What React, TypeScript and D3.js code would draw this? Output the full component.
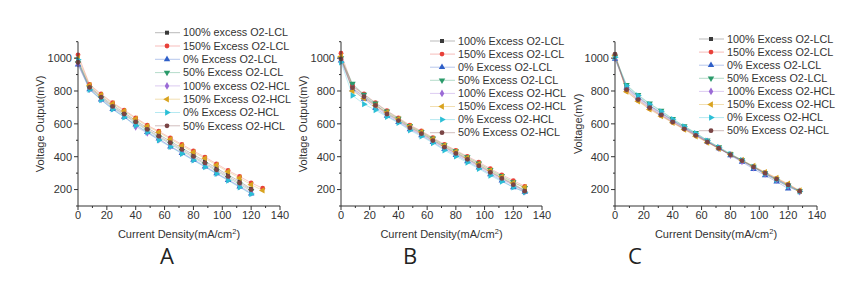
import React from 'react';
import * as d3 from 'd3';

// current density (mA/cm2)
const densities = [0, 8, 16, 24, 32, 40, 48, 56, 64, 72, 80, 88, 96, 104, 112, 120, 128];

const labelsA = [
  '100% excess O2-LCL', '150% Excess O2-LCL', '0% Excess O2-LCL', '50% Excess O2-LCL',
  '100% excess O2-HCL', '150% Excess O2-HCL', '0% Excess O2-HCL', '50% Excess O2-HCL',
];
const labelsBC = [
  '100% Excess O2-LCL', '150% Excess O2-LCL', '0% Excess O2-LCL', '50% Excess O2-LCL',
  '100% Excess O2-HCL', '150% Excess O2-HCL', '0% Excess O2-HCL', '50% Excess O2-HCL',
];

// panel A (mV), legend order
const a100L = [985, 828, 768, 714, 668, 620, 575, 535, 494, 453, 412, 372, 330, 289, 250, 205];
const a150L = [1020, 840, 782, 729, 684, 637, 592, 555, 514, 475, 435, 398, 357, 316, 280, 241, 208];
const a0L = [960, 810, 748, 690, 642, 595, 550, 510, 462, 422, 380, 340, 298, 258, 218, 175];
const a50L = [970, 818, 757, 700, 655, 605, 560, 518, 478, 436, 395, 355, 313, 272, 232, 192];
const a100H = [965, 812, 750, 695, 648, 582, 545, 505, 465, 425, 385, 345, 302, 262, 222, 182];
const a150H = [1000, 835, 776, 723, 678, 631, 586, 549, 507, 467, 427, 390, 349, 308, 270, 230, 195];
const a0H = [990, 808, 745, 688, 640, 590, 548, 500, 460, 418, 378, 337, 296, 255, 214, 173];
const a50H = [975, 822, 762, 706, 660, 612, 566, 525, 485, 444, 402, 362, 320, 280, 240, 200];

// panel B
const b100L = [1000, 835, 770, 718, 665, 625, 580, 545, 503, 462, 425, 388, 350, 310, 272, 234, 195];
const b150L = [1030, 830, 782, 729, 680, 637, 592, 557, 516, 475, 439, 402, 367, 327, 290, 255, 220];
const b0L = [985, 810, 752, 695, 648, 610, 567, 530, 488, 446, 410, 372, 333, 293, 255, 214, 186];
const b50L = [1000, 845, 778, 725, 676, 632, 587, 552, 511, 470, 434, 397, 360, 320, 283, 246, 210];
const b100H = [990, 815, 760, 705, 655, 615, 572, 535, 494, 454, 415, 380, 340, 300, 262, 225, 188];
const b150H = [1010, 800, 755, 712, 670, 630, 585, 550, 508, 468, 430, 393, 355, 316, 278, 240, 215];
const b0H = [975, 773, 720, 684, 643, 606, 561, 524, 484, 439, 402, 365, 327, 286, 249, 214, 184];
const b50H = [995, 820, 765, 712, 660, 620, 576, 540, 498, 458, 420, 384, 345, 305, 268, 230, 190];

// panel C
const c100L = [1000, 825, 765, 712, 668, 622, 580, 538, 495, 454, 412, 374, 335, 294, 256, 218, 186];
const c150L = [1020, 800, 742, 692, 650, 608, 568, 528, 488, 450, 412, 378, 340, 304, 268, 232, 192];
const c0L = [995, 820, 760, 708, 664, 620, 576, 535, 492, 450, 408, 368, 325, 286, 248, 206];
const c50L = [1010, 837, 776, 724, 680, 631, 586, 545, 500, 459, 418, 380, 340, 300, 262, 225, 190];
const c100H = [1000, 815, 755, 704, 660, 616, 574, 533, 492, 452, 410, 372, 334, 296, 260, 222, 188];
const c150H = [1015, 796, 738, 688, 647, 606, 565, 524, 486, 449, 414, 380, 343, 306, 271, 235, 194];
const c0H = [1005, 832, 772, 720, 676, 628, 584, 543, 498, 457, 416, 378, 338, 298, 260, 222, 188];
const c50H = [1025, 808, 748, 698, 654, 612, 570, 530, 490, 452, 412, 376, 338, 300, 264, 228, 190];

const colors = ['#3a3a3a', '#e8413a', '#2f5fc8', '#2a9a6a', '#9b6bd6', '#d9a31f', '#2bbfd6', '#7a4545'];
const shapes = [
  { t: d3.symbolSquare, r: 0 },
  { t: d3.symbolCircle, r: 0 },
  { t: d3.symbolTriangle, r: 0 },
  { t: d3.symbolTriangle, r: 180 },
  { t: d3.symbolDiamond, r: 0 },
  { t: d3.symbolTriangle, r: -90 },
  { t: d3.symbolTriangle, r: 90 },
  { t: d3.symbolCircle, r: 0 },
];

const font = '"Liberation Sans", Arial, sans-serif';

type PanelProps = {
  x0: number; x1: number;
  series: number[][]; labels: string[];
  yTitle: string; yTitleX: number;
  legY: number; legStep: number; legX: number;
  letter: string; letterX: number;
};

const Marker = ({ i, x, y }: { i: number; x: number; y: number }) => {
  const s = shapes[i];
  const d = d3.symbol().type(s.t).size(i === 0 ? 16 : 18)();
  return <path d={d || ''} transform={`translate(${x},${y}) rotate(${s.r})`} fill={colors[i]} />;
};

const Panel = (p: PanelProps) => {
  const x = d3.scaleLinear().domain([0, 140]).range([p.x0, p.x1]);
  const y = d3.scaleLinear().domain([100, 1100]).range([206, 41.7]);
  const line = d3.line<number>().x((_, j) => x(densities[j])).y(v => y(v));
  const xMajor = d3.range(0, 141, 20);
  const xMinor = d3.range(10, 141, 20);
  const yMajor = d3.range(200, 1001, 200);
  const yMinor = d3.range(100, 1101, 200);
  const midX = (p.x0 + p.x1) / 2;
  return (
    <g fontFamily={font}>
      {p.series.map((s, i) => (
        <path key={'l' + i} d={line(s) || ''} fill="none" stroke={colors[i]} strokeOpacity={0.3} strokeWidth={1} />
      ))}
      {p.series.map((s, i) => s.map((v, j) => (
        <Marker key={`m${i}-${j}`} i={i} x={x(densities[j])} y={y(v)} />
      )))}
      {/* axes */}
      <line x1={p.x0} x2={p.x0} y1={y(1100)} y2={y(100)} stroke="#333" strokeWidth={1} />
      <line x1={p.x0} x2={p.x1} y1={y(100)} y2={y(100)} stroke="#333" strokeWidth={1} />
      {yMajor.map(v => (
        <g key={'ym' + v}>
          <line x1={p.x0 - 4} x2={p.x0} y1={y(v)} y2={y(v)} stroke="#333" />
          <text x={p.x0 - 6} y={y(v)} dy="0.35em" textAnchor="end" fontSize={11} fill="#333">{v}</text>
        </g>
      ))}
      {yMinor.map(v => (
        <line key={'yn' + v} x1={p.x0 - 2} x2={p.x0} y1={y(v)} y2={y(v)} stroke="#333" />
      ))}
      {xMajor.map(v => (
        <g key={'xm' + v}>
          <line x1={x(v)} x2={x(v)} y1={y(100)} y2={y(100) + 4} stroke="#333" />
          <text x={x(v)} y={y(100) + 13} textAnchor="middle" fontSize={11} fill="#333">{v}</text>
        </g>
      ))}
      {xMinor.map(v => (
        <line key={'xn' + v} x1={x(v)} x2={x(v)} y1={y(100)} y2={y(100) + 2} stroke="#333" />
      ))}
      <text transform={`translate(${p.yTitleX},${y(600)}) rotate(-90)`} textAnchor="middle" fontSize={11} fill="#333">{p.yTitle}</text>
      <text x={midX} y={238} textAnchor="middle" fontSize={11} fill="#333">
        Current Density(mA/cm<tspan dy="-4" fontSize={7.5}>2</tspan><tspan dy="4">)</tspan>
      </text>
      {/* legend */}
      {p.labels.map((lab, i) => {
        const ly = p.legY + i * p.legStep;
        return (
          <g key={'lg' + i}>
            <line x1={p.legX} x2={p.legX + 25} y1={ly} y2={ly} stroke={colors[i]} strokeOpacity={0.35} />
            <Marker i={i} x={p.legX + 12} y={ly} />
            <text x={p.legX + 28} y={ly} dy="0.35em" fontSize={10.8} fill="#333">{lab}</text>
          </g>
        );
      })}
      <text x={p.letterX} y={264} textAnchor="middle" fontSize={22} fontFamily='"Open Sans", sans-serif' fill="#222">{p.letter}</text>
    </g>
  );
};

export default function App() {
  return (
    <svg width={860} height={284} style={{ position: 'absolute', left: 0, top: 0, background: '#fff' }}>
      <rect width={860} height={284} fill="#fff" />
      <Panel x0={78} x1={280} series={[a100L, a150L, a0L, a50L, a100H, a150H, a0H, a50H]} labels={labelsA}
        yTitle="Voltage Output(mV)" yTitleX={44} legY={32.7} legStep={13.3} legX={155} letter="A" letterX={167} />
      <Panel x0={341} x1={542} series={[b100L, b150L, b0L, b50L, b100H, b150H, b0H, b50H]} labels={labelsBC}
        yTitle="Voltage Output(mV)" yTitleX={307} legY={41} legStep={13.1} legX={430} letter="B" letterX={410} />
      <Panel x0={615} x1={817} series={[c100L, c150L, c0L, c50L, c100H, c150H, c0H, c50H]} labels={labelsBC}
        yTitle="Voltage(mV)" yTitleX={582} legY={39} legStep={13.1} legX={699} letter="C" letterX={635} />
    </svg>
  );
}
